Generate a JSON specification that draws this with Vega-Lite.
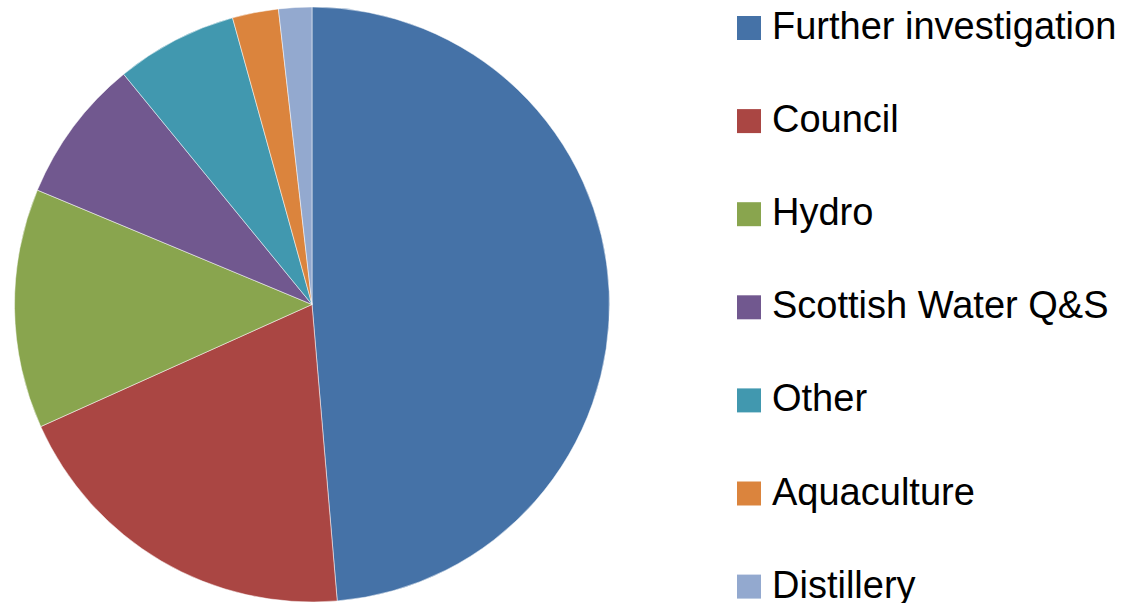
{
  "$schema": "https://vega.github.io/schema/vega-lite/v6.json",
  "width": 624,
  "height": 609,
  "padding": 0,
  "background": "white",
  "config": {"view": {"stroke": null}},
  "data": {"values": [
    {"category": "Further investigation", "value": 48.6, "rank": 1},
    {"category": "Council", "value": 19.6, "rank": 2},
    {"category": "Hydro", "value": 13.0, "rank": 3},
    {"category": "Scottish Water Q&S", "value": 7.8, "rank": 4},
    {"category": "Other", "value": 6.6, "rank": 5},
    {"category": "Aquaculture", "value": 2.5, "rank": 6},
    {"category": "Distillery", "value": 1.8, "rank": 7}
  ]},
  "mark": {"type": "arc", "outerRadius": 297.5, "stroke": "white", "strokeWidth": 0.5},
  "encoding": {
    "theta": {"field": "value", "type": "quantitative", "stack": true},
    "order": {"field": "rank", "type": "quantitative"},
    "color": {
      "field": "category",
      "type": "nominal",
      "scale": {
        "domain": ["Further investigation", "Council", "Hydro", "Scottish Water Q&S", "Other", "Aquaculture", "Distillery"],
        "range": ["#4572A7", "#AA4643", "#89A54E", "#71588F", "#4198AF", "#DB843D", "#93A9CF"]
      },
      "legend": {
        "title": null,
        "orient": "none",
        "legendX": 730,
        "legendY": 9,
        "padding": 0,
        "symbolType": "square",
        "symbolSize": 576,
        "symbolStrokeWidth": 0,
        "labelFont": "Liberation Sans",
        "labelFontSize": 38,
        "labelColor": "black",
        "labelOffset": 4,
        "labelLimit": 500,
        "rowPadding": 55.1
      }
    }
  }
}
